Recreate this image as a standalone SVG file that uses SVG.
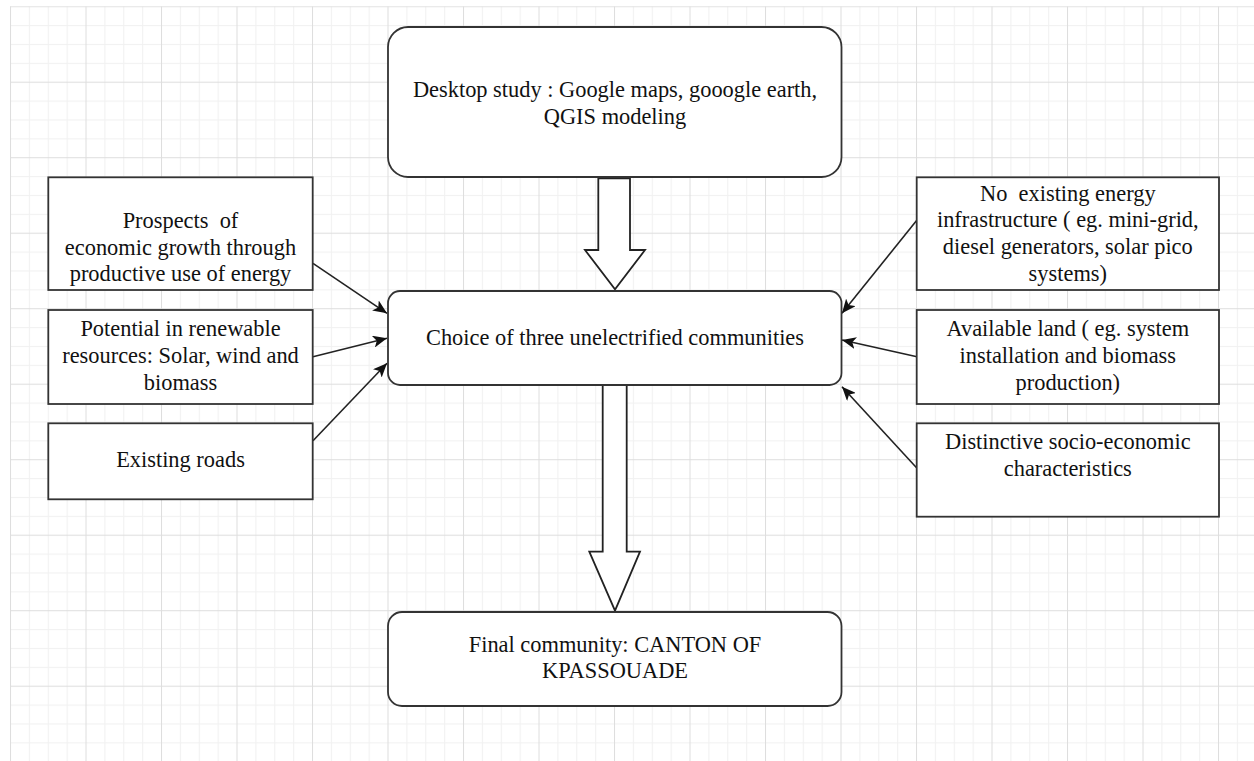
<svg xmlns="http://www.w3.org/2000/svg" width="1254" height="761" viewBox="0 0 1254 761">
  <style>
    .box { fill: #ffffff; stroke: #333333; stroke-width: 1.8; }
    .txt { font-family: "Liberation Serif", "Times New Roman", serif; font-size: 22.4px; fill: #111111; text-anchor: middle; white-space: pre; }
    .conn { stroke: #222222; stroke-width: 1.6; fill: none; marker-end: url(#arrow); }
    .hollow { fill: #ffffff; stroke: #222222; stroke-width: 1.8; stroke-linejoin: miter; }
  </style>
  <defs>
    <pattern id="grid" patternUnits="userSpaceOnUse" x="10" y="6.2" width="75.5" height="75.5">
      <rect x="0" y="0" width="75.5" height="75.5" fill="#ffffff"/>
      <rect x="18.875" y="0" width="1" height="75.5" fill="#f1f1f1"/>
      <rect x="37.75" y="0" width="1" height="75.5" fill="#f1f1f1"/>
      <rect x="56.625" y="0" width="1" height="75.5" fill="#f1f1f1"/>
      <rect x="0" y="18.875" width="75.5" height="1" fill="#f1f1f1"/>
      <rect x="0" y="37.75" width="75.5" height="1" fill="#f1f1f1"/>
      <rect x="0" y="56.625" width="75.5" height="1" fill="#f1f1f1"/>
      <rect x="0" y="0" width="1" height="75.5" fill="#dedede"/>
      <rect x="0" y="0" width="75.5" height="1" fill="#dedede"/>
    </pattern>
    <marker id="arrow" markerUnits="userSpaceOnUse" markerWidth="14" markerHeight="12" viewBox="0 0 14 12" refX="14" refY="6" orient="auto">
      <path d="M0,0 L14,6 L0,12 L3.5,6 z" fill="#111111"/>
    </marker>
  </defs>

  <rect x="0" y="0" width="1254" height="761" fill="#ffffff"/>
  <rect x="10" y="6.2" width="1244" height="754.8" fill="url(#grid)"/>

  <g id="connectors">
    <line class="conn" x1="313" y1="263.3" x2="387" y2="313.3"/>
    <line class="conn" x1="313" y1="356.7" x2="387" y2="338.3"/>
    <line class="conn" x1="313" y1="440.7" x2="387" y2="363.3"/>
    <line class="conn" x1="917" y1="220" x2="842" y2="313.3"/>
    <line class="conn" x1="917" y1="356.7" x2="842" y2="340"/>
    <line class="conn" x1="917" y1="468.3" x2="842" y2="386.7"/>
    <polygon class="hollow" points="598.3,178.3 630,178.3 630,250 645,250 615,289.3 585,250 598.3,250"/>
    <polygon class="hollow" points="602.7,385 626.7,385 626.7,551.7 640,551.7 615,610.7 589.3,551.7 602.7,551.7"/>
  </g>

  <g id="desktop-study">
    <rect class="box" x="388" y="27" width="453.5" height="150" rx="20" ry="20"/>
    <text class="txt" x="615" y="96.7">Desktop study : Google maps, gooogle earth,</text>
    <text class="txt" x="615" y="124">QGIS modeling</text>
  </g>

  <g id="choice">
    <rect class="box" x="388" y="291" width="453.5" height="94" rx="12" ry="12"/>
    <text class="txt" x="615" y="345">Choice of three unelectrified communities</text>
  </g>

  <g id="final">
    <rect class="box" x="388" y="612" width="453.5" height="94" rx="14" ry="14"/>
    <text class="txt" x="615" y="651.7">Final community: CANTON OF</text>
    <text class="txt" x="615" y="678.3">KPASSOUADE</text>
  </g>

  <g id="prospects">
    <rect class="box" x="48.3" y="177.3" width="264.4" height="112.7"/>
    <text class="txt" x="180.5" y="228.3">Prospects  of</text>
    <text class="txt" x="180.5" y="255">economic growth through</text>
    <text class="txt" x="180.5" y="281">productive use of energy</text>
  </g>

  <g id="potential">
    <rect class="box" x="48.3" y="310" width="264.4" height="94"/>
    <text class="txt" x="180.5" y="335.7">Potential in renewable</text>
    <text class="txt" x="180.5" y="363.3">resources: Solar, wind and</text>
    <text class="txt" x="180.5" y="390">biomass</text>
  </g>

  <g id="roads">
    <rect class="box" x="48.3" y="423.3" width="264.4" height="76"/>
    <text class="txt" x="180.5" y="466.7">Existing roads</text>
  </g>

  <g id="no-infrastructure">
    <rect class="box" x="916.7" y="177.3" width="302.3" height="112.7"/>
    <text class="txt" x="1067.8" y="200.7">No  existing energy</text>
    <text class="txt" x="1067.8" y="227.3">infrastructure ( eg. mini-grid,</text>
    <text class="txt" x="1067.8" y="254">diesel generators, solar pico</text>
    <text class="txt" x="1067.8" y="281">systems)</text>
  </g>

  <g id="available-land">
    <rect class="box" x="916.7" y="310" width="302.3" height="94"/>
    <text class="txt" x="1067.8" y="335.7">Available land ( eg. system</text>
    <text class="txt" x="1067.8" y="362.7">installation and biomass</text>
    <text class="txt" x="1067.8" y="390">production)</text>
  </g>

  <g id="socio-economic">
    <rect class="box" x="916.7" y="423.3" width="302.3" height="93.4"/>
    <text class="txt" x="1067.8" y="449.3">Distinctive socio-economic</text>
    <text class="txt" x="1067.8" y="476">characteristics</text>
  </g>
</svg>
